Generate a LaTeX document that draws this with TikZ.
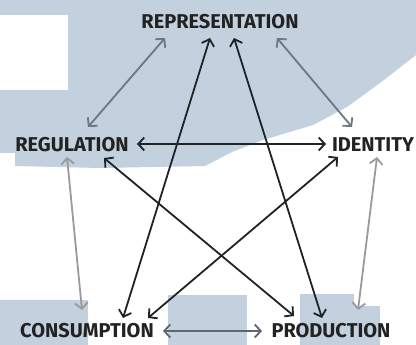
\documentclass[tikz,border=0pt]{standalone}
\usepackage{fontspec}
\setmainfont{Fira Sans}
\usetikzlibrary{arrows.meta}
\definecolor{bgblue}{HTML}{C3D0DD}
\definecolor{darkline}{HTML}{1E2328}
\definecolor{midline}{HTML}{6E7680}
\definecolor{lightline}{HTML}{9A9A9A}
\definecolor{botline}{HTML}{5F6670}
\definecolor{txt}{HTML}{222222}
\tikzset{
  lbl/.style={inner sep=0pt, text=txt, font=\fontsize{20}{20}\selectfont\bfseries},
  link/.style={line width=1.8pt, {Straight Barb[length=6pt,width=13pt]}-{Straight Barb[length=6pt,width=13pt]}},
}
\begin{document}
\begin{tikzpicture}[x=1pt,y=-1pt]
\useasboundingbox (0,0) rectangle (416,345);
\fill[white] (0,0) rectangle (416,345);
\fill[bgblue] (0,0) -- (416,0) -- (416,55) -- (380,83) -- (347,107) -- (313,125) -- (263,140) -- (232,152) -- (205,166) -- (100,168) -- (15,166) -- (15,153) -- (0,153) -- cycle;
\fill[white!96!bgblue] (0,15) rectangle (68,90);
\fill[white] (0,17) rectangle (65,88);
\fill[bgblue] (0,300) rectangle (88,345);
\fill[bgblue] (168,295) rectangle (247,345);
\fill[bgblue] (300,294) rectangle (354,345);
\fill[bgblue] (300,306) rectangle (380,345);

\node[lbl] (rep) at (220,22) {REPRESENTATION};
\node[lbl] (reg) at (72,145) {REGULATION};
\node[lbl] (id) at (373,145) {IDENTITY};
\node[lbl] (cons) at (87,331) {CONSUMPTION};
\node[lbl] (prod) at (331,331) {PRODUCTION};

\draw[link, midline] ([shift={(-55,16)}]rep.center) -- ([shift={(16,-18)}]reg.center);
\draw[link, midline] ([shift={(57,16)}]rep.center) -- ([shift={(-21,-18)}]id.center);
\draw[link, darkline] ([shift={(65,-1)}]reg.center) -- ([shift={(-47,-1)}]id.center);
\draw[link, lightline] ([shift={(-5,12)}]reg.center) -- ([shift={(-5,-21)}]cons.center);
\draw[link, lightline] ([shift={(4,12)}]id.center) -- ([shift={(27,-21)}]prod.center);
\draw[link, botline] ([shift={(76,0)}]cons.center) -- ([shift={(-69,0)}]prod.center);
\draw[link, darkline] ([shift={(-10,16)}]rep.center) -- ([shift={(36,-13)}]cons.center);
\draw[link, darkline] ([shift={(14,16)}]rep.center) -- ([shift={(-9,-13)}]prod.center);
\draw[link, darkline] ([shift={(32,13)}]reg.center) -- ([shift={(-37,-15)}]prod.center);
\draw[link, darkline] ([shift={(-35,12)}]id.center) -- ([shift={(61,-13)}]cons.center);
\end{tikzpicture}
\end{document}
